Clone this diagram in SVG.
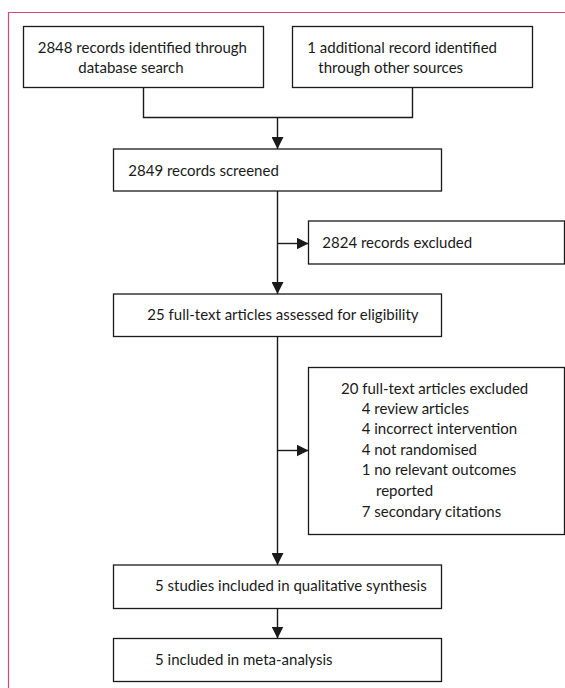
<svg xmlns="http://www.w3.org/2000/svg" width="565" height="688" viewBox="0 0 565 688">
<defs>
<style>
.box{fill:#fff;stroke:#1a1a1a;stroke-width:1.3}
.t{font-family:Lato,"Open Sans","Liberation Sans",sans-serif;font-size:15px;fill:#1a1a1a}
.c{fill:none;stroke:#1a1a1a;stroke-width:1.4}
.frame{fill:none;stroke:#d24a73;stroke-width:1.2}
</style>
<marker id="ah" viewBox="0 0 12 12" refX="12" refY="6" markerWidth="12" markerHeight="12" markerUnits="userSpaceOnUse" orient="auto">
<path d="M0,0 L12,6 L0,12 Z" fill="#1a1a1a"/>
</marker>
</defs>
<rect width="565" height="688" fill="#fff"/>
<path class="frame" d="M8.5,688 V12.5 H565"/>
<g id="connectors">
<path class="c" d="M143.5,87.5 V117.5 H412.5 V87.5"/>
<path class="c" d="M277.5,117.5 V149" marker-end="url(#ah)"/>
<path class="c" d="M277.5,191 V294" marker-end="url(#ah)"/>
<path class="c" d="M277.5,243.5 H308.5" marker-end="url(#ah)"/>
<path class="c" d="M277.5,336.5 V565" marker-end="url(#ah)"/>
<path class="c" d="M277.5,450.5 H308.5" marker-end="url(#ah)"/>
<path class="c" d="M277.5,608.5 V638.5" marker-end="url(#ah)"/>
</g>
<g id="n1">
<rect class="box" x="23.5" y="26.5" width="240" height="61"/>
<text class="t" x="37.7" y="53">2848 records identified through</text>
<text class="t" x="78.3" y="73">database search</text>
</g>
<g id="n2">
<rect class="box" x="292.5" y="26.5" width="240" height="61"/>
<text class="t" x="307.3" y="53">1 additional record identified</text>
<text class="t" x="318.3" y="73">through other sources</text>
</g>
<g id="n3">
<rect class="box" x="113.5" y="149" width="328" height="42"/>
<text class="t" x="128.3" y="175.5">2849 records screened</text>
</g>
<g id="n4">
<rect class="box" x="308.5" y="221" width="256" height="43"/>
<text class="t" x="322.3" y="248">2824 records excluded</text>
</g>
<g id="n5">
<rect class="box" x="113.5" y="294" width="328" height="42.5"/>
<text class="t" x="147.3" y="320">25 full-text articles assessed for eligibility</text>
</g>
<g id="n6">
<rect class="box" x="308.5" y="367.5" width="256" height="167"/>
<text class="t" x="341" y="393.5">20 full-text articles excluded</text>
<text class="t" x="361.7" y="414">4 review articles</text>
<text class="t" x="361.7" y="434">4 incorrect intervention</text>
<text class="t" x="361.7" y="454.5">4 not randomised</text>
<text class="t" x="361.7" y="475">1 no relevant outcomes</text>
<text class="t" x="376" y="496">reported</text>
<text class="t" x="361.7" y="516.5">7 secondary citations</text>
</g>
<g id="n7">
<rect class="box" x="113.5" y="565" width="328" height="43.5"/>
<text class="t" x="155" y="591">5 studies included in qualitative synthesis</text>
</g>
<g id="n8">
<rect class="box" x="113.5" y="638.5" width="328" height="43"/>
<text class="t" x="155" y="664.5">5 included in meta-analysis</text>
</g>
</svg>
